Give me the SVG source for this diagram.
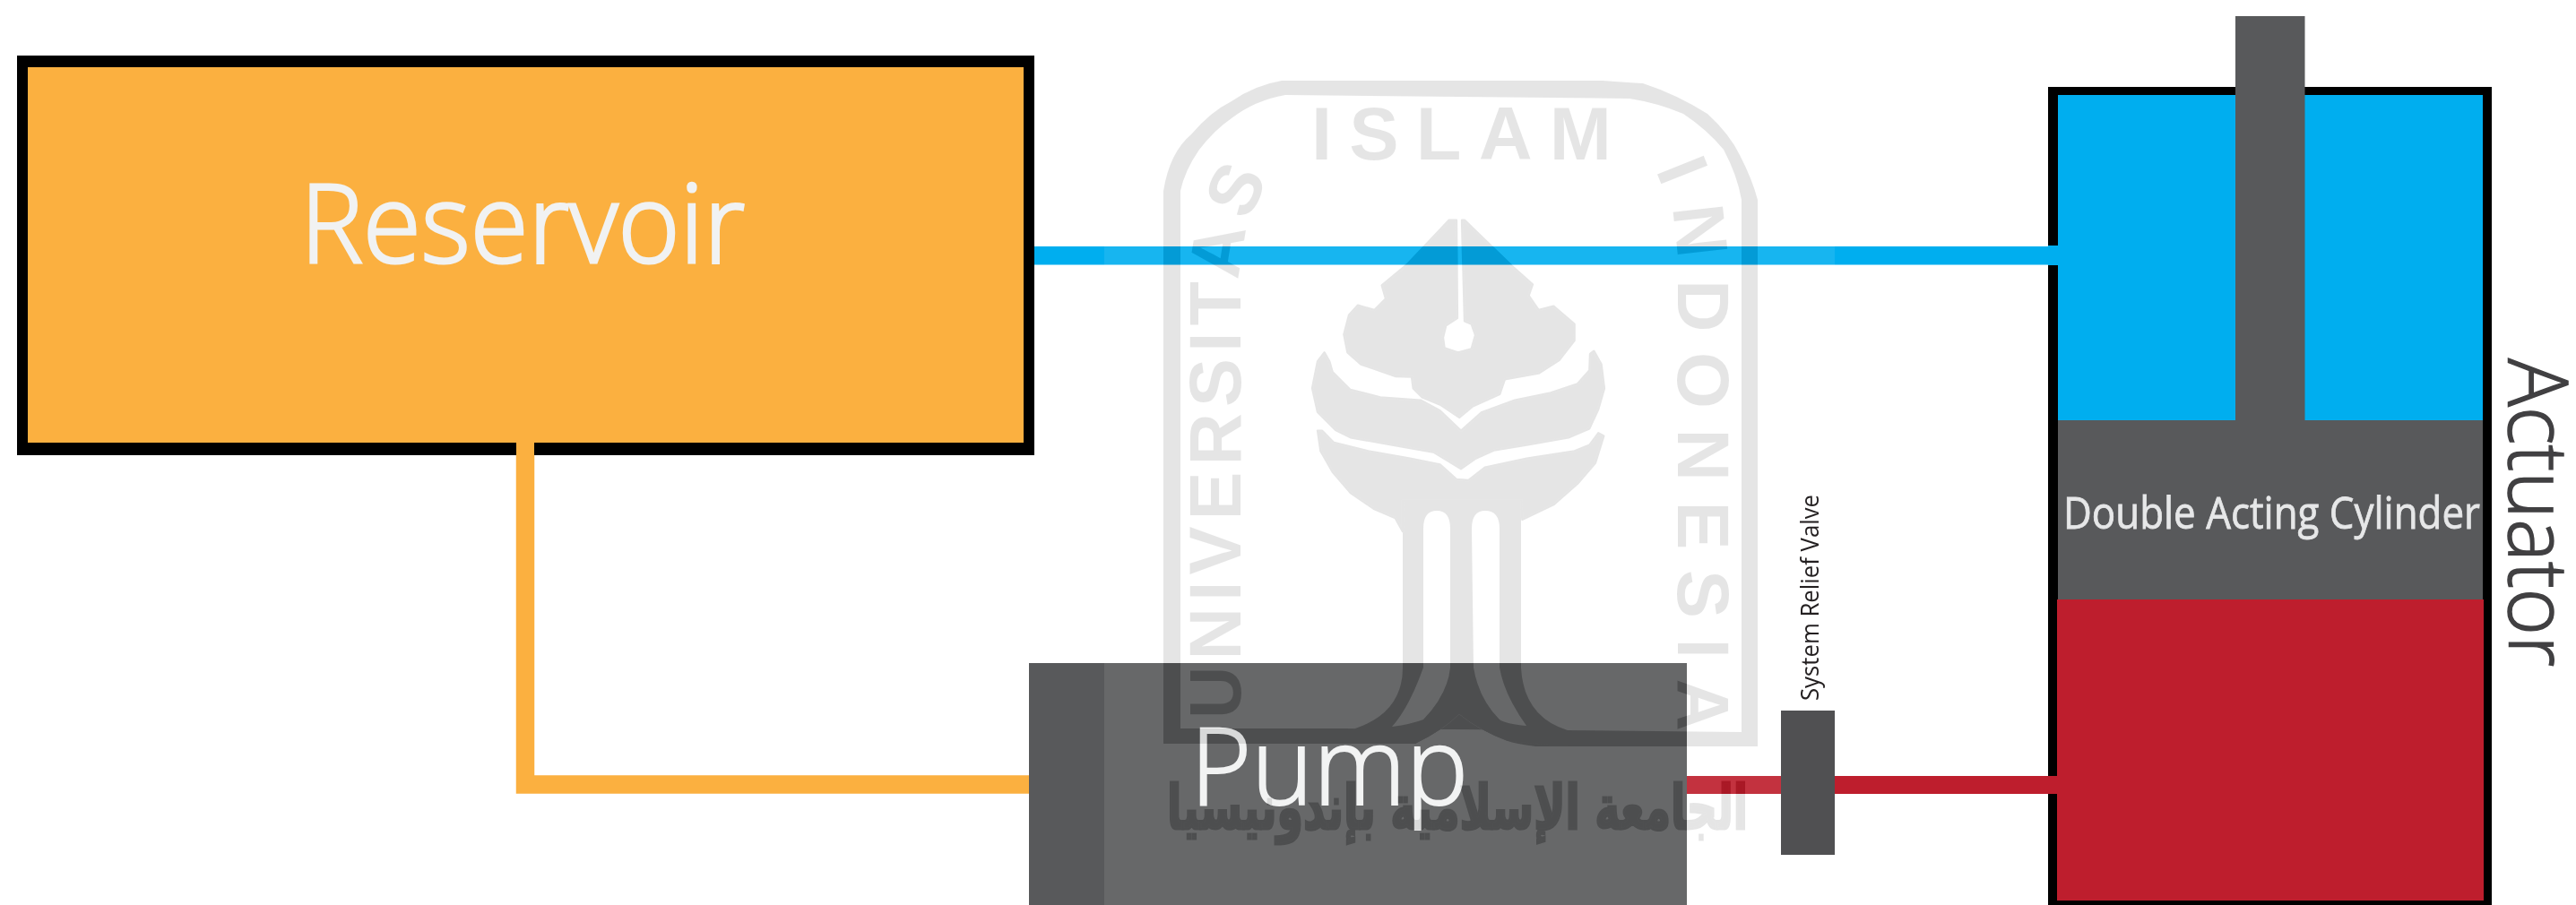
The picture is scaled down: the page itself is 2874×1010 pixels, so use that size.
<svg xmlns="http://www.w3.org/2000/svg" width="2874" height="1010" viewBox="0 0 2874 1010">
<style>
.lbl{font-family:"Open Sans","Liberation Sans",sans-serif}
.big{font-weight:300;fill:#f1f2f2;stroke:#f1f2f2}
.wm{fill:#1a1a1a}
.soft{stroke:#1a1a1a;stroke-width:7;stroke-linejoin:round}
.wmt{font-family:"Liberation Sans",sans-serif;font-weight:700;font-size:81px;fill:#1a1a1a}
</style>
<defs>
<path id="arcL" d="M1384 802 L1384 300 Q1388 240 1425 185"/>
<path id="arcR" d="M1846 190 Q1872 240 1872 300 L1872 830"/>
</defs>
<rect width="2874" height="1010" fill="#fff"/>
<g id="connectors">
<path d="M586 490V875.500H1150" fill="none" stroke="#fbb040" stroke-width="20.500"/>
<rect x="1154" y="275" width="1143" height="20.500" fill="#00aeef"/>
</g>
<g id="reservoir">
<rect x="19" y="62" width="1135" height="446" fill="#000"/>
<rect x="31" y="75" width="1111" height="419" fill="#fbb040"/>
<rect x="576" y="490" width="20" height="20" fill="#fbb040"/>
<text class="lbl big" x="335" y="293" font-size="122" stroke-width="3" textLength="496" lengthAdjust="spacingAndGlyphs">Reservoir</text>
</g>
<g id="actuator">
<rect x="2285" y="97" width="495" height="913" fill="#000"/>
<rect x="2296" y="106" width="474" height="363" fill="#00aeef"/>
<rect x="2296" y="469" width="474" height="200" fill="#58595b"/>
<rect x="2295" y="669" width="476" height="336" fill="#be1e2d"/>
<rect x="2494" y="18" width="77.500" height="451" fill="#58595b"/>
<rect x="2285" y="274" width="12" height="22" fill="#00aeef"/>
<rect x="2285" y="866" width="12" height="20" fill="#be1e2d"/>
<text class="lbl" x="2302" y="590" font-size="49" fill="#e6e7e8" stroke="#e6e7e8" stroke-width="0.800" textLength="465" lengthAdjust="spacingAndGlyphs">Double Acting Cylinder</text>
<text class="lbl" transform="translate(2799 400) rotate(90)" font-size="93" font-weight="300" fill="#414042" stroke="#414042" stroke-width="1.500" textLength="344" lengthAdjust="spacingAndGlyphs">Actuator</text>
</g>
<g id="connectors-red">
<rect x="1880" y="866" width="417" height="20" fill="#be1e2d"/>
</g>
<g id="pump">
<rect x="1148" y="740" width="734" height="270" fill="#58595b"/>
<text class="lbl big" x="1328" y="898" font-size="120" stroke-width="2" textLength="310" lengthAdjust="spacingAndGlyphs">Pump</text>
</g>
<rect x="1232" y="0" width="815" height="1010" fill="#fff" fill-opacity="0.09"/>
<g id="watermark" style="mix-blend-mode:difference">
<path class="wm" fill-rule="evenodd" d="M1298 830L1298 213Q1305 170 1329 150Q1350 125 1374 113Q1400 95 1430 90L1789 90Q1815 92 1833 93Q1870 105 1905 127Q1930 150 1941 173Q1955 200 1961 223V833L1713 833Q1690 830 1682 827Q1650 815 1628 797Q1610 815 1579 830ZM1317 813L1500 813L1749 815L1943 817V223Q1938 195 1923 167Q1905 145 1878 127Q1850 115 1818 110L1434 106Q1400 112 1374 132Q1355 145 1338 167Q1322 190 1317 213Z"/>
<path class="wm" fill-rule="evenodd" d="M1565 555V745Q1565 795 1512 813L1512 830L1579 830Q1610 815 1628 797Q1650 815 1682 827L1749 833V815Q1700 800 1697 745V555ZM1588 590Q1588 570 1603 570Q1618 570 1618 590V745Q1615 775 1588 803Q1575 808 1553 811Q1572 790 1588 745ZM1642 590Q1642 570 1657 570Q1673 570 1673 590V745Q1678 775 1703 810Q1680 808 1673 803Q1650 780 1644 745Z"/>
<g transform="translate(1440 230) scale(.3333)">
<path class="wm soft" fill-rule="evenodd" d="M555 47L530 47L390 195L305 265L318 310L280 348L225 332L195 365L178 430L190 490L235 530L350 570L405 572L410 610L440 640L500 665L565 708L610 670L700 630L717 580L830 560L900 515L950 450L950 395L880 335L830 348L797 300L810 262L740 200L582 47L573 47L582 385L605 395L618 432L605 478L560 490L515 475L510 440L520 400L558 375Z"/>
<path class="wm soft" d="M113 490L130 520L140 555L200 615L300 640L435 650L500 685L570 752L640 690L750 650L870 625L960 595L1000 550L1002 495L1015 485L1040 530L1050 610L1030 680L1000 745L930 775L790 800L680 818L620 845L570 880L480 825L340 800L200 775L150 750L90 690L72 610L90 520Z"/>
<path class="wm soft" d="M90 752L105 752L145 792L260 820L400 845L500 865L555 915L595 918L650 875L790 845L950 820L1000 800L1030 760L1048 770L1020 860L960 930L880 1000L775 1050L772 985L375 985L375 1090L350 1045L280 1015L200 960L140 890L100 820Z"/>
</g>
<text class="wmt" style="font-size:83px" x="1463" y="178" textLength="335">ISLAM</text>
<text class="wmt" letter-spacing="7"><textPath href="#arcL">UNIVERSITAS</textPath></text>
<text class="wmt" letter-spacing="22.500"><textPath href="#arcR">INDONESIA</textPath></text>
<text x="1302" y="925" font-family="DejaVu Sans,sans-serif" font-weight="700" font-size="68" fill="#1a1a1a" stroke="#1a1a1a" stroke-width="3" textLength="648" lengthAdjust="spacingAndGlyphs" direction="rtl" text-anchor="end">الجامعة الإسلامية بإندونيسيا</text>
</g>
<g id="valve">
<rect x="1987" y="793" width="60" height="161" fill="#505052"/>
<text class="lbl" transform="translate(2029 782) rotate(-90)" font-size="28" fill="#231f20" textLength="230" lengthAdjust="spacingAndGlyphs">System Relief Valve</text>
</g>
</svg>
